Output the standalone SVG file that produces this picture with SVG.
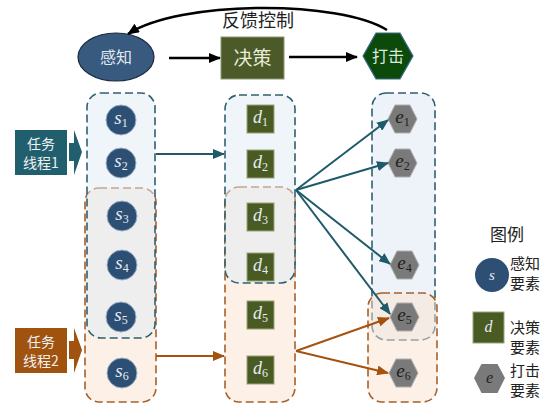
<svg xmlns="http://www.w3.org/2000/svg" width="544" height="404" viewBox="0 0 544 404">
<style>
.cjk{font-family:"Noto Sans CJK SC","Noto Sans",sans-serif}
.var{font-family:"Liberation Serif",serif;font-style:italic;text-anchor:middle}
.sub{font-style:normal;font-size:12px}
.bz{fill:#eef3fa;stroke:#2f6070;stroke-width:1.6;stroke-dasharray:8 4}
.oz{fill:#fdf1e7;stroke:#a8602a;stroke-width:1.6;stroke-dasharray:8 4}
.bzt{fill:#e2ebf6;fill-opacity:0.5;stroke:#2f6070;stroke-width:1.6;stroke-dasharray:8 4}
.ozt{fill:#fbe3cf;fill-opacity:0.5;stroke:#a8602a;stroke-width:1.6;stroke-dasharray:8 4}
.sn{fill:#2d4f73;stroke:#9ab0c8;stroke-width:1}
.dn{fill:#4a5a23;stroke:#9aa47a;stroke-width:1}
.en{fill:#7a7a7a;stroke:#b0b0b0;stroke-width:1}
.tl{fill:#e4ecf4;font-size:19px}
.dl{fill:#e4ecf4;font-size:18px}
.el{fill:#1e1e1e;font-size:19px}
.blk{stroke:#000;stroke-width:2.5;fill:none}
.tea{stroke:#1f5a6a;stroke-width:2;fill:none;marker-end:url(#at)}
.org{stroke:#a5520f;stroke-width:2;fill:none;marker-end:url(#ao)}
</style>
<defs>
<marker id="ab" viewBox="0 0 12 10" refX="11" refY="5" markerWidth="12" markerHeight="10" markerUnits="userSpaceOnUse" orient="auto"><path d="M0,0L12,5L0,10z" fill="#000"/></marker>
<marker id="at" viewBox="0 0 12 10" refX="11" refY="5" markerWidth="12" markerHeight="10" markerUnits="userSpaceOnUse" orient="auto"><path d="M0,0L12,5L0,10z" fill="#1f5a6a"/></marker>
<marker id="ao" viewBox="0 0 12 10" refX="11" refY="5" markerWidth="12" markerHeight="10" markerUnits="userSpaceOnUse" orient="auto"><path d="M0,0L12,5L0,10z" fill="#a5520f"/></marker>
</defs>

<g id="zones">
<rect class="oz" x="85" y="188" width="71" height="214" rx="14"/>
<rect class="bzt" x="87" y="93" width="68" height="245" rx="14"/>
<rect class="oz" x="225" y="187" width="70" height="215" rx="14"/>
<rect class="bzt" x="225" y="95" width="70" height="188" rx="14"/>
<rect class="bz" x="372" y="93" width="63" height="247" rx="14"/>
<rect class="ozt" x="368" y="293" width="69" height="109" rx="14"/>
</g>

<g id="top-sense"><ellipse cx="116" cy="57" rx="38" ry="24" fill="#385a7e" stroke="#1a2a40" stroke-width="1.2"/><text class="cjk" x="116" y="63" text-anchor="middle" font-size="16" fill="#e0e8f0">感知</text></g>
<g id="top-decide"><rect x="221" y="37" width="63" height="42" fill="#4b5a28" stroke="#8a9a70" stroke-width="1"/><text class="cjk" x="252.5" y="65" text-anchor="middle" font-size="19" fill="#e8ecd8">决策</text></g>
<g id="top-strike"><polygon points="363,56 376,33 400,33 413,56 400,79 376,79" fill="#0b4a0b" stroke="#3a6a8a" stroke-width="1.2"/><text class="cjk" x="388" y="62" text-anchor="middle" font-size="16" fill="#dde8dd">打击</text></g>
<text class="cjk" x="258" y="27" text-anchor="middle" font-size="18" fill="#222">反馈控制</text>

<g id="thread1"><rect x="15" y="130" width="52" height="45" fill="#215f6f"/><polygon points="69,143 74,143 74,130 82,152 74,175 74,161 69,161" fill="#215f6f"/><text class="cjk" x="41" y="149" text-anchor="middle" font-size="14" fill="#f0f0f0">任务</text><text class="cjk" x="41" y="168" text-anchor="middle" font-size="14" fill="#f0f0f0">线程1</text></g>
<g id="thread2"><rect x="15" y="328" width="52" height="45" fill="#a0520f"/><polygon points="69,341 74,341 74,328 82,350 74,373 74,359 69,359" fill="#a0520f"/><text class="cjk" x="41" y="347" text-anchor="middle" font-size="14" fill="#f0f0f0">任务</text><text class="cjk" x="41" y="366" text-anchor="middle" font-size="14" fill="#f0f0f0">线程2</text></g>

<g id="s1"><circle class="sn" cx="121" cy="120" r="15"/><text class="var tl" x="121" y="124">s<tspan class="sub" dy="3">1</tspan></text></g>
<g id="s2"><circle class="sn" cx="121" cy="163" r="15"/><text class="var tl" x="121" y="167">s<tspan class="sub" dy="3">2</tspan></text></g>
<g id="s3"><circle class="sn" cx="122" cy="216" r="15"/><text class="var tl" x="122" y="220">s<tspan class="sub" dy="3">3</tspan></text></g>
<g id="s4"><circle class="sn" cx="122" cy="265" r="15"/><text class="var tl" x="122" y="269">s<tspan class="sub" dy="3">4</tspan></text></g>
<g id="s5"><circle class="sn" cx="121" cy="317" r="15"/><text class="var tl" x="121" y="321">s<tspan class="sub" dy="3">5</tspan></text></g>
<g id="s6"><circle class="sn" cx="122" cy="373" r="15"/><text class="var tl" x="122" y="377">s<tspan class="sub" dy="3">6</tspan></text></g>

<g id="d1"><rect class="dn" x="247" y="105" width="27" height="28"/><text class="var dl" x="260.5" y="123">d<tspan class="sub" dy="3">1</tspan></text></g>
<g id="d2"><rect class="dn" x="247" y="150" width="27" height="28"/><text class="var dl" x="260.5" y="168">d<tspan class="sub" dy="3">2</tspan></text></g>
<g id="d3"><rect class="dn" x="247" y="203" width="27" height="28"/><text class="var dl" x="260.5" y="221">d<tspan class="sub" dy="3">3</tspan></text></g>
<g id="d4"><rect class="dn" x="247" y="253" width="27" height="28"/><text class="var dl" x="260.5" y="271">d<tspan class="sub" dy="3">4</tspan></text></g>
<g id="d5"><rect class="dn" x="247" y="301" width="27" height="28"/><text class="var dl" x="260.5" y="319">d<tspan class="sub" dy="3">5</tspan></text></g>
<g id="d6"><rect class="dn" x="247" y="356" width="27" height="28"/><text class="var dl" x="260.5" y="374">d<tspan class="sub" dy="3">6</tspan></text></g>

<g id="e1"><polygon class="en" points="388,119 395,105 410,105 417,119 410,133 395,133"/><text class="var el" x="402.5" y="123">e<tspan class="sub" dy="3">1</tspan></text></g>
<g id="e2"><polygon class="en" points="388,163 395,149 410,149 417,163 410,177 395,177"/><text class="var el" x="402.5" y="167">e<tspan class="sub" dy="3">2</tspan></text></g>
<g id="e4"><polygon class="en" points="390,265 397,251 412,251 419,265 412,279 397,279"/><text class="var el" x="404.5" y="269">e<tspan class="sub" dy="3">4</tspan></text></g>
<g id="e5"><polygon class="en" points="390,317 397,303 412,303 419,317 412,331 397,331"/><text class="var el" x="404.5" y="321">e<tspan class="sub" dy="3">5</tspan></text></g>
<g id="e6"><polygon class="en" points="389,373 396,359 411,359 418,373 411,387 396,387"/><text class="var el" x="403.5" y="377">e<tspan class="sub" dy="3">6</tspan></text></g>

<g id="connectors">
<path class="blk" d="M387,30 C340,0 180,0 128,34" marker-end="url(#ab)"/>
<line class="blk" x1="169" y1="58" x2="220" y2="58" marker-end="url(#ab)"/>
<line class="blk" x1="289" y1="57" x2="357" y2="57" marker-end="url(#ab)"/>
<line class="tea" x1="156" y1="154" x2="224" y2="154"/>
<line class="tea" x1="296" y1="190" x2="388" y2="120"/>
<line class="tea" x1="296" y1="190" x2="388" y2="163"/>
<line class="tea" x1="296" y1="190" x2="390" y2="264"/>
<line class="tea" x1="296" y1="190" x2="390" y2="314"/>
<line class="org" x1="156" y1="356" x2="224" y2="356"/>
<line class="org" x1="296" y1="351" x2="389" y2="318"/>
<line class="org" x1="296" y1="351" x2="388" y2="373"/>
</g>

<g id="legend">
<text class="cjk" x="507" y="241" text-anchor="middle" font-size="17" fill="#222">图例</text>
<circle cx="492" cy="275" r="17" fill="#2d4f73"/>
<text class="var" x="492" y="280" font-size="15" fill="#e4ecf4">s</text>
<text class="cjk" x="510" y="269" font-size="15" fill="#222">感知</text>
<text class="cjk" x="510" y="289" font-size="15" fill="#222">要素</text>
<rect x="473" y="312" width="31" height="31" fill="#4a5a23" stroke="#9aa47a" stroke-width="1"/>
<text class="var" x="488.5" y="332" font-size="16" fill="#e4ecf4">d</text>
<text class="cjk" x="510" y="333" font-size="15" fill="#222">决策</text>
<text class="cjk" x="510" y="353" font-size="15" fill="#222">要素</text>
<polygon points="474,378 481.5,364 497.5,364 505,378 497.5,393 481.5,393" fill="#7a7a7a"/>
<text class="var" x="489.5" y="383" font-size="16" fill="#222">e</text>
<text class="cjk" x="510" y="376" font-size="15" fill="#222">打击</text>
<text class="cjk" x="510" y="396" font-size="15" fill="#222">要素</text>
</g>
</svg>
